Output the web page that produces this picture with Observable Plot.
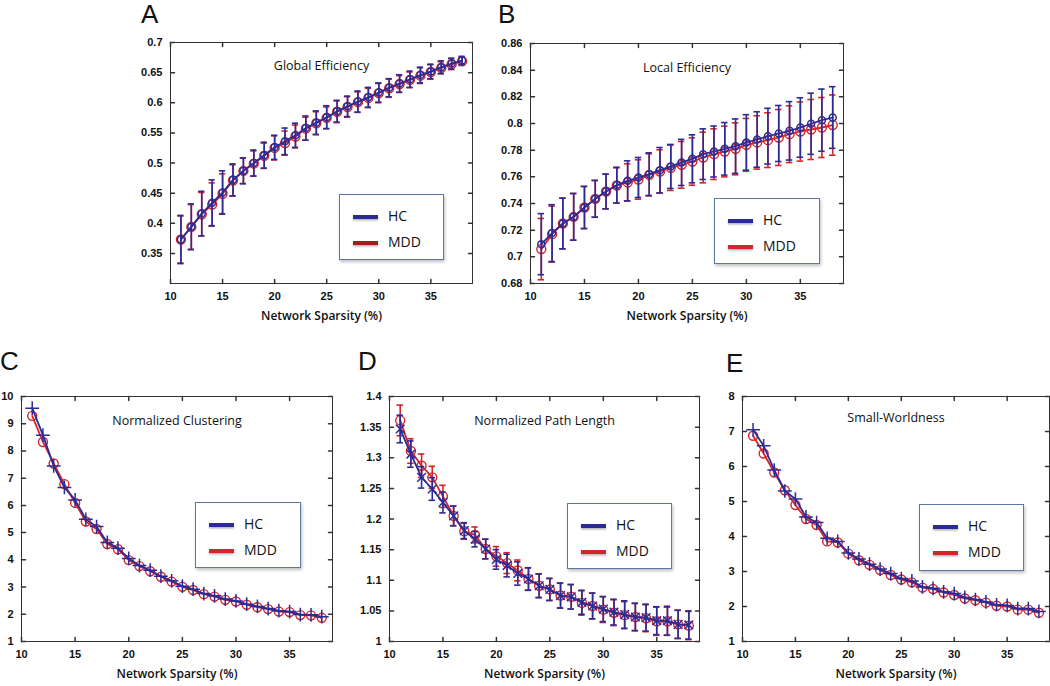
<!DOCTYPE html>
<html><head><meta charset="utf-8">
<script src="https://cdn.jsdelivr.net/npm/d3@7"></script>
<script src="https://cdn.jsdelivr.net/npm/@observablehq/plot@0.6"></script>
<style>
html,body{margin:0;padding:0;background:#fff;overflow:hidden;}
#root{position:relative;width:1050px;height:686px;font-family:"Liberation Sans",Arial,sans-serif;}
#root svg{position:absolute;overflow:visible;}
.letter{position:absolute;font-size:26px;line-height:30px;color:#111;font-family:"Liberation Sans",Arial,sans-serif;}
.legend{position:absolute;border:1.5px solid #5b78a6;background:#fff;box-shadow:1px 2px 3px rgba(0,0,0,0.25);box-sizing:border-box;}
.legend .sw{position:absolute;left:13px;width:25px;height:3.5px;box-shadow:0 1.5px 2px rgba(0,0,0,0.3);}
.legend .lab{position:absolute;left:48px;font-size:14px;line-height:18px;color:#111;font-family:"Open Sans",sans-serif;}
</style>
</head><body><div id="root"></div>
<script>
const sparsity = [11,12,13,14,15,16,17,18,19,20,21,22,23,24,25,26,27,28,29,30,31,32,33,34,35,36,37,38];
const xTicks = [10,15,20,25,30,35];

// A: Global efficiency
const geHC    = [0.373,0.394,0.416,0.434,0.451,0.472,0.487,0.500,0.513,0.526,0.536,0.546,0.558,0.567,0.576,0.586,0.594,0.602,0.609,0.617,0.625,0.632,0.639,0.646,0.652,0.659,0.665,0.670];
const geHCsd  = [0.040,0.038,0.037,0.038,0.036,0.0265,0.0215,0.0215,0.0215,0.020,0.022,0.020,0.020,0.0195,0.019,0.018,0.017,0.0175,0.0165,0.016,0.015,0.0145,0.0135,0.013,0.012,0.0105,0.009,0.007];
const geMDD   = [0.373,0.394,0.415,0.431,0.449,0.471,0.487,0.499,0.512,0.525,0.533,0.544,0.557,0.566,0.575,0.585,0.593,0.601,0.608,0.616,0.624,0.631,0.638,0.645,0.651,0.658,0.664,0.669];
const geMDDsd = [0.039,0.037,0.036,0.036,0.033,0.026,0.021,0.021,0.021,0.020,0.020,0.019,0.019,0.019,0.018,0.018,0.017,0.017,0.016,0.016,0.015,0.014,0.013,0.013,0.012,0.010,0.009,0.007];
const geTicks = [0.35,0.4,0.45,0.5,0.55,0.6,0.65,0.7];

// B: Local efficiency
const leHC    = [0.7095,0.7178,0.725,0.730,0.737,0.7435,0.749,0.7538,0.757,0.7595,0.762,0.765,0.7678,0.7708,0.7735,0.777,0.779,0.781,0.783,0.7858,0.788,0.7905,0.7925,0.7945,0.797,0.7998,0.8025,0.8045];
const leHCsd  = [0.0229,0.0213,0.019,0.0175,0.0158,0.0138,0.013,0.0134,0.015,0.015,0.016,0.017,0.0165,0.0173,0.018,0.019,0.0191,0.0197,0.0204,0.0208,0.0208,0.0209,0.021,0.0219,0.0223,0.0229,0.0233,0.0231];
const leMDD   = [0.7058,0.717,0.725,0.730,0.737,0.7435,0.749,0.7535,0.7558,0.758,0.7615,0.764,0.7668,0.769,0.7715,0.7745,0.777,0.779,0.781,0.784,0.7858,0.7875,0.7895,0.792,0.794,0.7955,0.797,0.7988];
const leMDDsd = [0.023,0.021,0.019,0.0175,0.0158,0.0138,0.013,0.0132,0.014,0.0148,0.0158,0.0163,0.017,0.0175,0.0178,0.019,0.019,0.019,0.0195,0.0198,0.020,0.0205,0.021,0.0213,0.0222,0.0225,0.0225,0.0226];
const leTicks = [0.68,0.7,0.72,0.74,0.76,0.78,0.8,0.82,0.84,0.86];

// C: Normalized clustering
const ncHC  = [9.57,8.58,7.45,6.66,6.20,5.49,5.22,4.64,4.43,4.05,3.79,3.62,3.40,3.23,3.03,2.92,2.76,2.68,2.56,2.49,2.37,2.29,2.21,2.13,2.10,1.99,1.98,1.91];
const ncMDD = [9.29,8.33,7.54,6.78,6.09,5.41,5.13,4.58,4.39,3.99,3.77,3.58,3.38,3.20,3.01,2.89,2.74,2.65,2.53,2.47,2.35,2.26,2.19,2.10,2.08,1.97,1.96,1.87];
const ncTicks = [1,2,3,4,5,6,7,8,9,10];

// D: Normalized path length
const plHC    = [1.347,1.306,1.268,1.249,1.227,1.205,1.181,1.167,1.151,1.134,1.124,1.111,1.102,1.091,1.085,1.075,1.073,1.064,1.058,1.053,1.048,1.044,1.040,1.039,1.034,1.034,1.028,1.027];
const plHCsd  = [0.0225,0.0215,0.0175,0.0185,0.017,0.016,0.013,0.0125,0.016,0.016,0.0185,0.019,0.0185,0.0195,0.018,0.0205,0.020,0.0195,0.021,0.0205,0.021,0.0225,0.0225,0.022,0.0228,0.0235,0.023,0.023];
const plMDD   = [1.361,1.311,1.287,1.268,1.237,1.205,1.180,1.174,1.151,1.139,1.128,1.116,1.102,1.091,1.085,1.075,1.073,1.063,1.058,1.052,1.047,1.043,1.040,1.038,1.033,1.033,1.028,1.026];
const plMDDsd = [0.025,0.020,0.019,0.018,0.018,0.016,0.013,0.013,0.016,0.016,0.017,0.017,0.018,0.019,0.018,0.020,0.020,0.020,0.021,0.021,0.021,0.022,0.022,0.022,0.023,0.023,0.023,0.023];
const plTicks = [1,1.05,1.1,1.15,1.2,1.25,1.3,1.35,1.4];

// E: Small-worldness
const swHC  = [7.05,6.59,5.90,5.30,5.07,4.56,4.40,3.95,3.86,3.53,3.36,3.21,3.07,2.94,2.80,2.73,2.56,2.52,2.42,2.37,2.26,2.20,2.13,2.05,2.03,1.94,1.94,1.86];
const swMDD = [6.88,6.37,5.83,5.32,4.90,4.50,4.33,3.86,3.83,3.51,3.32,3.19,3.04,2.90,2.77,2.69,2.54,2.50,2.40,2.33,2.23,2.18,2.11,2.02,2.00,1.91,1.91,1.82];
const swTicks = [1,2,3,4,5,6,7,8];

const groups = ["HC","MDD"];
const BLUE = "#2b2b98", RED = "#d4262a", AXIS = "#333";

const panels = [
  {letter:"A", title:"Global Efficiency", hc:geHC, hcSd:geHCsd, mdd:geMDD, mddSd:geMDDsd, yDomain:[0.3,0.7], yTicks:geTicks,
   frame:[170,472,42,283], titleDy:19, hcSymbol:"circle", hcR:3.5, letterPos:[141,-1], legend:[339,194,105,66], legendMddColor:"#a8181c"},
  {letter:"B", title:"Local Efficiency", hc:leHC, hcSd:leHCsd, mdd:leMDD, mddSd:leMDDsd, yDomain:[0.68,0.86], yTicks:leTicks,
   frame:[530,843,43,283], titleDy:20, hcSymbol:"circle", hcR:3.5, letterPos:[498,-1], legend:[714,198,106,66], legendMddColor:RED},
  {letter:"C", title:"Normalized Clustering", hc:ncHC, hcSd:null, mdd:ncMDD, mddSd:null, yDomain:[1,10], yTicks:ncTicks,
   frame:[21,332,396,641], titleDy:20, hcSymbol:"plus", hcR:4.5, letterPos:[0,346], legend:[195,502,106,66], legendMddColor:RED},
  {letter:"D", title:"Normalized Path Length", hc:plHC, hcSd:plHCsd, mdd:plMDD, mddSd:plMDDsd, yDomain:[1,1.4], yTicks:plTicks,
   frame:[389,699,396,641], titleDy:20, hcSymbol:"times", hcR:4, letterPos:[358,346], legend:[567,503,105,66], legendMddColor:RED},
  {letter:"E", title:"Small-Worldness", hc:swHC, hcSd:null, mdd:swMDD, mddSd:null, yDomain:[1,8], yTicks:swTicks,
   frame:[742,1049,396,641], titleDy:17, hcSymbol:"plus", hcR:4.5, letterPos:[726,348], legend:[919,504,105,67], legendMddColor:RED}
];

const tickShape = {draw(ctx, l) { ctx.moveTo(0, 0); ctx.lineTo(0, -l); }};
const root = document.getElementById("root");

function rows(vals, sds) {
  return sparsity.map((x, i) => ({x, y: vals[i], lo: sds ? vals[i] - sds[i] : null, hi: sds ? vals[i] + sds[i] : null}));
}

function errorMarks(data, color) {
  const cw = 0.3;
  return [
    Plot.ruleX(data, {x: "x", y1: "lo", y2: "hi", stroke: color, strokeWidth: 1.6}),
    Plot.ruleY(data, {y: "lo", x1: d => d.x - cw, x2: d => d.x + cw, stroke: color, strokeWidth: 1.6}),
    Plot.ruleY(data, {y: "hi", x1: d => d.x - cw, x2: d => d.x + cw, stroke: color, strokeWidth: 1.6})
  ];
}

for (const p of panels) {
  const [L, R, T, B] = p.frame;
  const ml = 50, mr = 2, mt = 10, mb = 50;
  const hcRows = rows(p.hc, p.hcSd);
  const mddRows = rows(p.mdd, p.mddSd);
  const tl = 4;
  const chart = Plot.plot({
    width: R - L + ml + mr,
    height: B - T + mt + mb,
    marginLeft: ml, marginRight: mr, marginTop: mt, marginBottom: mb,
    x: {domain: [10, 39], axis: null},
    y: {domain: p.yDomain, axis: null},
    style: {fontFamily: "'Liberation Sans', Arial, sans-serif", color: "#111", background: "transparent"},
    marks: [
      Plot.frame({stroke: AXIS, strokeWidth: 1}),
      Plot.vector(xTicks, {x: d => d, frameAnchor: "bottom", rotate: 0, length: tl, anchor: "start", shape: tickShape, stroke: AXIS}),
      Plot.vector(xTicks, {x: d => d, frameAnchor: "top", rotate: 180, length: tl, anchor: "start", shape: tickShape, stroke: AXIS}),
      Plot.vector(p.yTicks, {y: d => d, frameAnchor: "left", rotate: 90, length: tl, anchor: "start", shape: tickShape, stroke: AXIS}),
      Plot.vector(p.yTicks, {y: d => d, frameAnchor: "right", rotate: -90, length: tl, anchor: "start", shape: tickShape, stroke: AXIS}),
      Plot.axisX(xTicks, {anchor: "bottom", tickSize: 0, tickPadding: 9, label: null, fontSize: 11, fontWeight: "bold", tickFormat: d => String(d)}),
      Plot.axisY(p.yTicks, {anchor: "left", tickSize: 0, tickPadding: 8, label: null, fontSize: 11, fontWeight: "bold", tickFormat: d => String(d)}),
      Plot.text([p.title], {text: d => d, frameAnchor: "top", dy: p.titleDy, fontSize: 12.5, fontFamily: "'Open Sans', sans-serif", fill: "#111"}),
      Plot.text(["Network Sparsity (%)"], {text: d => d, frameAnchor: "bottom", dy: 36, fontSize: 12, fontWeight: 600, fontFamily: "'Open Sans', sans-serif", fill: "#111"}),
      ...(p.mddSd ? errorMarks(mddRows, RED) : []),
      Plot.line(mddRows, {x: "x", y: "y", stroke: RED, strokeWidth: 1.8}),
      Plot.dot(mddRows, {x: "x", y: "y", r: 4.5, stroke: RED, fill: "none", strokeWidth: 1.4}),
      ...(p.hcSd ? errorMarks(hcRows, BLUE) : []),
      Plot.line(hcRows, {x: "x", y: "y", stroke: BLUE, strokeWidth: 1.8}),
      Plot.dot(hcRows, {x: "x", y: "y", r: p.hcR, symbol: p.hcSymbol, stroke: BLUE, fill: "none", strokeWidth: 1.5})
    ]
  });
  chart.style.left = (L - ml) + "px";
  chart.style.top = (T - mt) + "px";
  root.appendChild(chart);

  const letter = document.createElement("div");
  letter.className = "letter";
  letter.textContent = p.letter;
  letter.style.left = p.letterPos[0] + "px";
  letter.style.top = p.letterPos[1] + "px";
  root.appendChild(letter);

  const [lx, ly, lw, lh] = p.legend;
  const lg = document.createElement("div");
  lg.className = "legend";
  Object.assign(lg.style, {left: lx + "px", top: ly + "px", width: lw + "px", height: lh + "px"});
  groups.forEach((g, i) => {
    const sw = document.createElement("div");
    sw.className = "sw";
    sw.style.top = (20 + i * 26) + "px";
    sw.style.background = i === 0 ? BLUE : p.legendMddColor;
    lg.appendChild(sw);
    const lab = document.createElement("div");
    lab.className = "lab";
    lab.textContent = g;
    lab.style.top = (12 + i * 26) + "px";
    lg.appendChild(lab);
  });
  root.appendChild(lg);
}
</script>
</body></html>
